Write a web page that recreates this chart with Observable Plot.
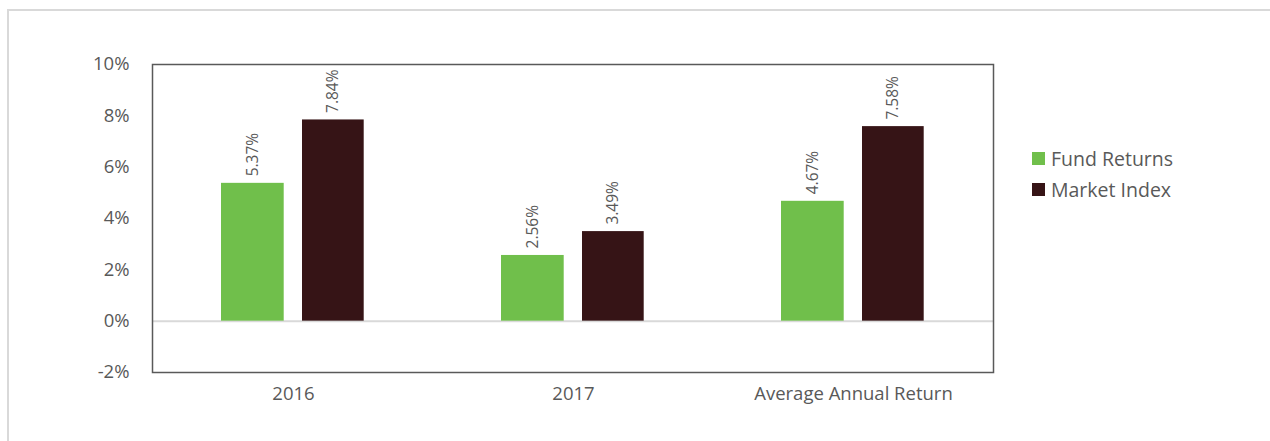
<!DOCTYPE html>
<html>
<head>
<meta charset="utf-8">
<script src="https://cdn.jsdelivr.net/npm/d3@7"></script>
<script src="https://cdn.jsdelivr.net/npm/@observablehq/plot@0.6"></script>
<style>
  html, body { margin: 0; padding: 0; background: #fff; }
  body { width: 1270px; height: 441px; overflow: hidden; position: relative; font-family: "Open Sans", sans-serif; }
  #border { position: absolute; left: 7px; top: 9px; width: 1400px; height: 600px; border-top: 2px solid #d9d9d9; border-left: 2px solid #d9d9d9; }
  #chart { position: absolute; left: 0; top: 0; }
  #legend { position: absolute; left: 1032px; top: 143px; font-size: 19.5px; color: #595959; }
  #legend .item { display: flex; align-items: center; height: 31px; }
  #legend .sw { width: 13px; height: 13px; margin-right: 6px; }
</style>
</head>
<body>
<div id="border"></div>
<div id="chart"></div>
<div id="legend"></div>
<script>
const categories = ["2016", "2017", "Average Annual Return"];
const series = ["Fund Returns", "Market Index"];
const fundReturns = [0.0537, 0.0256, 0.0467];
const marketIndex = [0.0784, 0.0349, 0.0758];
const yTicks = [-0.02, 0, 0.02, 0.04, 0.06, 0.08, 0.10];
const colors = ["#70bf4b", "#361416"];

const fundData = categories.map((c, i) => ({category: c, series: series[0], value: fundReturns[i]}));
const marketData = categories.map((c, i) => ({category: c, series: series[1], value: marketIndex[i]}));
const pct = d3.format(".2%");
const tickFmt = d => d3.format(".0%")(d).replace("\u2212", "-");

const chart = Plot.plot({
  width: 1270,
  height: 441,
  marginLeft: 152,
  marginRight: 277,
  marginTop: 64,
  marginBottom: 69,
  style: {fontFamily: "Open Sans, sans-serif", color: "#595959", background: "transparent"},
  x: {domain: categories, padding: 0, label: null},
  y: {domain: [-0.02, 0.10], ticks: yTicks, tickFormat: tickFmt, label: null},
  color: {domain: series, range: colors},
  marks: [
    Plot.ruleY([0], {stroke: "#d9d9d9", strokeWidth: 2}),
    Plot.barY(fundData, {x: "category", y: "value", fill: "series", insetLeft: 68, insetRight: 149.3}),
    Plot.barY(marketData, {x: "category", y: "value", fill: "series", insetLeft: 149, insetRight: 69.3}),
    Plot.text(fundData, {x: "category", y: "value", text: d => pct(d.value), rotate: -90, textAnchor: "start", dx: -40.5, dy: -7, fontSize: 15.5, fill: "#595959"}),
    Plot.text(marketData, {x: "category", y: "value", text: d => pct(d.value), rotate: -90, textAnchor: "start", dx: 40, dy: -7, fontSize: 15.5, fill: "#595959"}),
    Plot.axisY({ticks: yTicks, tickFormat: tickFmt, tickSize: 0, tickPadding: 23, fontSize: 18.5, label: null}),
    Plot.axisX({tickSize: 0, tickPadding: 14, fontSize: 18.5, label: null}),
    Plot.frame({stroke: "#595959", strokeWidth: 1.5})
  ]
});
document.getElementById("chart").append(chart);

const legend = document.getElementById("legend");
series.forEach((s, i) => {
  const item = document.createElement("div");
  item.className = "item";
  const sw = document.createElement("span");
  sw.className = "sw";
  sw.style.background = colors[i];
  const t = document.createElement("span");
  t.textContent = s;
  item.append(sw, t);
  legend.append(item);
});
</script>
</body>
</html>
